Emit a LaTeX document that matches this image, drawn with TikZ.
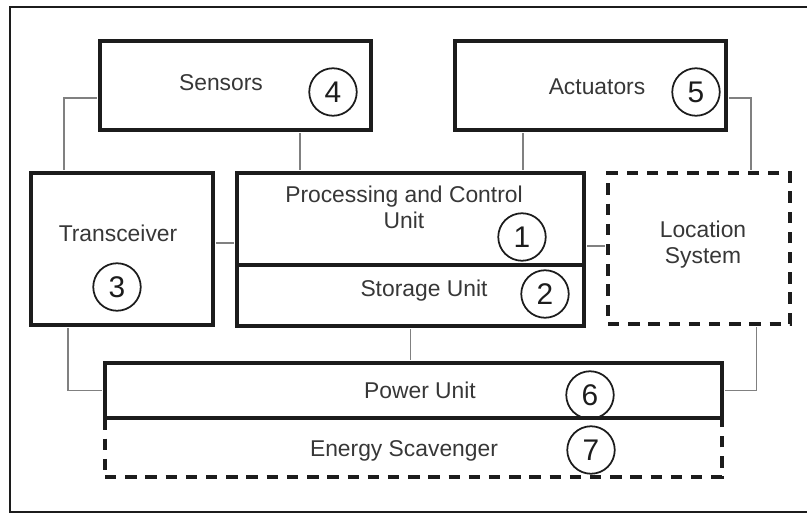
\documentclass[tikz,border=0pt]{standalone}
\usepackage{fontspec}
\setmainfont{Liberation Sans}
\usepackage{xcolor}
\usepackage{tikz}
\definecolor{ink}{RGB}{28,28,28}
\definecolor{wire}{RGB}{128,128,128}
\definecolor{quiet}{RGB}{55,55,55}

\begin{document}
\begin{tikzpicture}[
  box/.style={draw=ink, line width=1.8pt, minimum height=1.78cm, inner sep=0pt},
  dbox/.style={box, line width=2pt, dash pattern=on 6.5pt off 5pt},
  link/.style={draw=wire, line width=1.1pt, shorten <=0.9pt, shorten >=0.9pt},
  tag/.style={circle, draw=ink, line width=1pt, minimum size=0.95cm, inner sep=0pt,
              font=\fontsize{17}{17}\selectfont, text=ink},
  lbl/.style={font=\fontsize{13}{15}\selectfont, text=quiet, align=center},
]
  \useasboundingbox (0,0) rectangle (16.14,10.3);

  % Frame (open on the right, as cut in the picture)
  \draw[ink, line width=1.2pt] (16.14,10.16) -- (0.2,10.16) -- (0.2,0.06) -- (16.14,0.06);

  % Boxes
  \node[box, minimum width=5.42cm] (sens) at (4.71,8.59) {};
  \node[box, minimum width=5.42cm] (act) at (11.81,8.59) {};
  \node[box, minimum width=3.64cm, minimum height=3.04cm] (trx) at (2.44,5.32) {};
  \node[box, minimum width=6.94cm, minimum height=1.84cm] (proc) at (8.21,5.92) {};
  \node[box, minimum width=6.94cm, minimum height=1.22cm] (stor) at (8.21,4.39) {};
  \node[dbox, minimum width=3.64cm, minimum height=3.02cm] (loc) at (13.98,5.33) {};
  \node[dbox, minimum width=12.34cm, minimum height=1.18cm] (scav) at (8.27,1.35) {};
  \node[box, minimum width=12.34cm, minimum height=1.1cm] (pwr) at (8.27,2.49) {};

  % Labels and numbers
  \node[lbl] (sensT) at (4.42,8.64) {Sensors};
  \node[tag] (n4) at (6.66,8.46) {4};
  \node[lbl] (actT) at (11.94,8.56) {Actuators};
  \node[tag] (n5) at (13.92,8.46) {5};
  \node[lbl] (trxT) at (2.36,5.64) {Transceiver};
  \node[tag] (n3) at (2.34,4.56) {3};
  \node[lbl] (procT) at (8.08,6.15) {Processing and Control\\Unit};
  \node[tag] (n1) at (10.44,5.56) {1};
  \node[lbl] (storT) at (8.48,4.48) {Storage Unit};
  \node[tag] (n2) at (10.9,4.42) {2};
  \node[lbl] (locT) at (14.06,5.41) {Location\\System};
  \node[lbl] (pwrT) at (8.4,2.5) {Power Unit};
  \node[tag] (n6) at (11.8,2.4) {6};
  \node[lbl] (scavT) at (8.08,1.28) {Energy Scavenger};
  \node[tag] (n7) at (11.82,1.3) {7};

  % Connections between the units
  \draw[link] ([yshift=-2.5mm]sens.west) -| ([xshift=-11.6mm]trx.north);
  \draw[link] ([xshift=12.9mm]sens.south) -- ([xshift=12.9mm]sens.south |- proc.north);
  \draw[link] ([xshift=-13.5mm]act.south) -- ([xshift=-13.5mm]act.south |- proc.north);
  \draw[link] ([yshift=-2.5mm]act.east) -| ([xshift=10.4mm]loc.north);
  \draw[link] ([yshift=1.2mm]trx.east) -- ([yshift=1.2mm]trx.east -| proc.west);
  \draw[link] ([yshift=0.5mm]loc.west) -- ([yshift=0.5mm]loc.west -| proc.east);
  \draw[link] (stor.south) -- (stor.south |- pwr.north);
  \draw[link] ([xshift=-10.8mm]trx.south) |- (pwr.west);
  \draw[link] ([xshift=11.5mm]loc.south) |- (pwr.east);
\end{tikzpicture}
\end{document}
